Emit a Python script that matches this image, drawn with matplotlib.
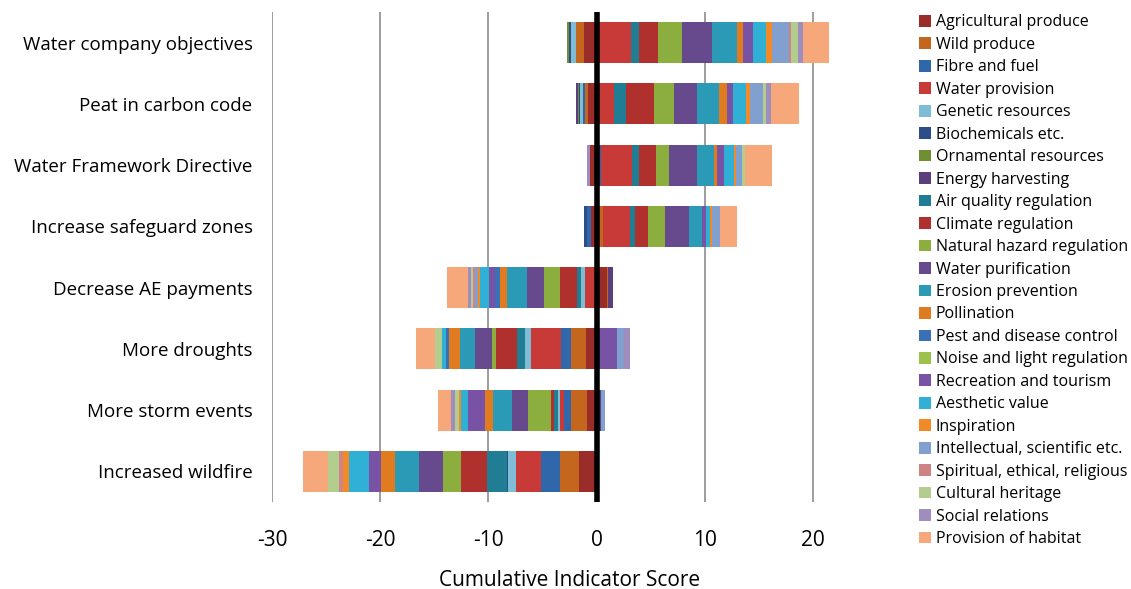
import numpy as np
import matplotlib
matplotlib.use('Agg')
import matplotlib.pyplot as plt

plt.rcParams['font.family'] = ['Open Sans', 'DejaVu Sans']
plt.rcParams['axes.unicode_minus'] = False

# scenarios, top to bottom as shown
scenarios = ['Water company objectives', 'Peat in carbon code', 'Water Framework Directive',
             'Increase safeguard zones', 'Decrease AE payments', 'More droughts',
             'More storm events', 'Increased wildfire']

services = ['Agricultural produce', 'Wild produce', 'Fibre and fuel', 'Water provision',
            'Genetic resources', 'Biochemicals etc.', 'Ornamental resources', 'Energy harvesting',
            'Air quality regulation', 'Climate regulation', 'Natural hazard regulation',
            'Water purification', 'Erosion prevention', 'Pollination', 'Pest and disease control',
            'Noise and light regulation', 'Recreation and tourism', 'Aesthetic value', 'Inspiration',
            'Intellectual, scientific etc.', 'Spiritual, ethical, religious', 'Cultural heritage',
            'Social relations', 'Provision of habitat']

colors = ['#9a2c2a', '#c4661d', '#3066aa', '#c83a38', '#7fbcd6', '#2b4f86', '#6f8f32', '#5b3f7b',
          '#217d93', '#b0302d', '#8bae3f', '#674a8d', '#2b9ab6', '#e07b1f', '#3a70b5', '#9dc14b',
          '#7852a4', '#31b0d5', '#f28a27', '#819fcf', '#cf8384', '#b3cd8e', '#9e8dbd', '#f6a87b']

# scores per scenario, one value per service (in service order)
water_company = [-1.2, -0.7, 0, 3.2, -0.45, -0.2, -0.2, 0, 0.7, 1.8, 2.2, 2.8, 2.3, 0.55, 0, 0,
                 0.9, 1.2, 0.55, 1.6, 0.15, 0.65, 0.45, 2.4]
peat_carbon = [-0.75, -0.3, -0.2, 1.6, -0.3, -0.05, -0.15, -0.12, 1.15, 2.6, 1.8, 2.1, 2.1, 0.75, 0, 0,
               0.55, 1.2, 0.3, 1.25, 0, 0.3, 0.45, 2.6]
wfd = [-0.65, 0, 0.45, 2.8, 0, 0, 0, 0, 0.7, 1.55, 1.2, 2.6, 1.55, 0.3, 0, 0,
       0.65, 0.9, 0.2, 0.55, 0, 0.25, -0.25, 2.5]
safeguard = [-0.55, 0.6, -0.35, 2.45, 0, -0.3, 0, 0, 0.5, 1.25, 1.55, 2.2, 1.2, 0, 0, 0,
             0.35, 0.35, 0.2, 0.8, 0, 0, 0, 1.5]
ae_payments = [1.0, 0.1, 0, -1.1, -0.3, 0, 0, 0.4, -0.45, -1.55, -1.5, -1.55, -1.85, -0.65, -0.45, 0,
               -0.55, -0.85, -0.2, -0.2, -0.2, -0.2, -0.3, -1.95]
droughts = [-1.0, -1.4, -0.9, -2.8, -0.55, 0, 0, 0, -0.75, -1.85, -0.45, -1.5, -1.4, -1.0, -0.35, 0,
            1.9, -0.3, 0, 0.6, 0, -0.65, 0.6, -1.75]
storms = [-0.9, -1.5, -0.65, -0.3, -0.2, 0, 0, 0.4, -0.35, -0.35, -2.05, -1.5, -1.75, -0.75, 0, 0,
          -1.55, -0.65, -0.2, 0.4, 0, -0.35, -0.45, -1.2]
wildfire = [-1.65, -1.75, -1.75, -2.3, -0.75, -0.1, 0, 0, -1.85, -2.4, -1.65, -2.2, -2.2, -1.3, 0, 0,
            -1.1, -1.85, -0.55, 0, -0.45, -1.0, 0, -2.3]

scores = np.array([water_company, peat_carbon, wfd, safeguard, ae_payments, droughts, storms, wildfire])

fig = plt.figure(figsize=(11.31, 5.89), dpi=100)
ax = fig.add_axes([0.2405, 0.1477, 0.5261, 0.8319])

y = np.arange(len(scenarios))[::-1]
pos = np.zeros(len(scenarios))
neg = np.zeros(len(scenarios))
handles = []
for i in range(len(services)):
    v = scores[:, i]
    # positives stack right of zero, negatives stack left of zero
    left = np.where(v >= 0, pos, neg)
    h = ax.barh(y, v, left=left, height=0.67, color=colors[i], edgecolor='none', label=services[i], zorder=3)
    handles.append(h)
    pos = pos + np.where(v > 0, v, 0)
    neg = neg + np.where(v < 0, v, 0)

ax.axvline(0, color='black', lw=4, zorder=5)
ax.set_xlim(-30, 25)
ax.set_ylim(-0.5, 7.5)
ax.set_xticks([-30, -20, -10, 0, 10, 20])
ax.grid(axis='x', color='#8c8c8c', lw=1.2, zorder=0)
ax.set_yticks(y)
ax.set_yticklabels(scenarios, fontsize=13.5)
ax.tick_params(axis='x', labelsize=15, length=0, pad=20)
ax.tick_params(axis='y', length=0, pad=14)
for s in ax.spines.values():
    s.set_visible(False)
ax.set_xlabel('Cumulative Indicator Score', fontsize=15, labelpad=14)

fig.legend(handles=handles, loc='upper left', bbox_to_anchor=(0.800, 1.0), frameon=False,
           fontsize=11.5, handlelength=0.75, handleheight=0.75, handletextpad=0.3, labelspacing=0.405)

fig.savefig('out.png', dpi=100)
